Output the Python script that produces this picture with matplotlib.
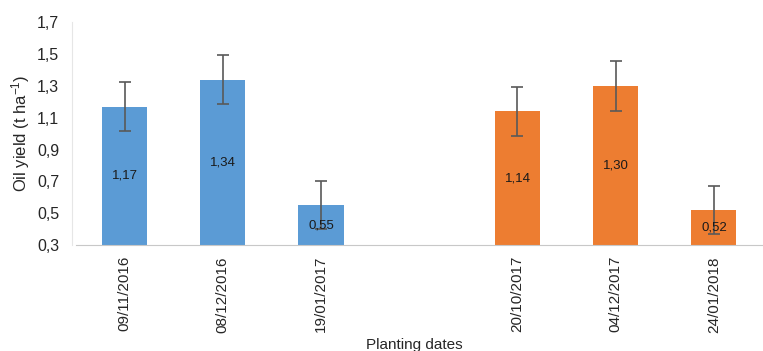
import matplotlib
matplotlib.use('Agg')
import matplotlib.pyplot as plt
import numpy as np
from matplotlib.ticker import FuncFormatter

plt.rcParams['font.family'] = ['Liberation Sans', 'DejaVu Sans']
plt.rcParams['mathtext.fontset'] = 'custom'
plt.rcParams['mathtext.rm'] = 'Liberation Sans'
plt.rcParams['mathtext.it'] = 'Liberation Sans:italic'

# Two seasons of planting dates, with an empty slot between them
dates_1 = ['09/11/2016', '08/12/2016', '19/01/2017']
yield_1 = [1.17, 1.34, 0.55]
err_1 = [0.155, 0.155, 0.15]

dates_2 = ['20/10/2017', '04/12/2017', '24/01/2018']
yield_2 = [1.14, 1.30, 0.52]
err_2 = [0.155, 0.155, 0.15]

y_ticks = [0.3, 0.5, 0.7, 0.9, 1.1, 1.3, 1.5, 1.7]

blue = '#5b9bd5'
orange = '#ed7d31'

x1 = np.arange(len(dates_1))
x2 = np.arange(len(dates_2)) + len(dates_1) + 1

fig = plt.figure(figsize=(7.63, 3.51), dpi=100)
ax = fig.add_axes([0.099, 0.302, 0.901, 0.634])

bottom = 0.3
for xs, vals, errs, col in [(x1, yield_1, err_1, blue), (x2, yield_2, err_2, orange)]:
    heights = [v - bottom for v in vals]
    ax.bar(xs, heights, bottom=bottom, width=0.46, color=col, zorder=2)
    ax.errorbar(xs, vals, yerr=errs, fmt='none', ecolor='#595959',
                elinewidth=1.2, capsize=4.5, capthick=1.2, zorder=3)
    for x, v in zip(xs, vals):
        ax.text(x, (v + bottom) / 2, f'{v:.2f}'.replace('.', ','),
                ha='center', va='center', fontsize=9.5, color='#1a1a1a', zorder=4)

ax.set_xlim(-0.5, 6.5)
ax.set_ylim(0.3, 1.7)
ax.set_yticks(y_ticks)
ax.yaxis.set_major_formatter(FuncFormatter(lambda v, p: f'{v:.1f}'.replace('.', ',')))

ax.set_xticks(list(x1) + list(x2))
ax.set_xticklabels(dates_1 + dates_2, rotation=90, fontsize=11, color='#262626')
ax.tick_params(axis='x', length=0, pad=8)
ax.tick_params(axis='y', length=0, pad=9, labelsize=11.5, labelcolor='#262626')

for s in ['top', 'right']:
    ax.spines[s].set_visible(False)
ax.spines['left'].set_color('#e6e6e6')
ax.spines['bottom'].set_color('#c8c8c8')
ax.spines['left'].set_position(('data', -0.54))

ax.set_ylabel(r'Oil yield (t ha$^{\mathregular{-1}}$)', fontsize=12, color='#262626')
ax.yaxis.set_label_coords(-0.063, 0.5)
fig.text(0.543, 0.016, 'Planting dates', fontsize=11, color='#262626',
         ha='center', va='center')

fig.savefig('out.png', dpi=100)
